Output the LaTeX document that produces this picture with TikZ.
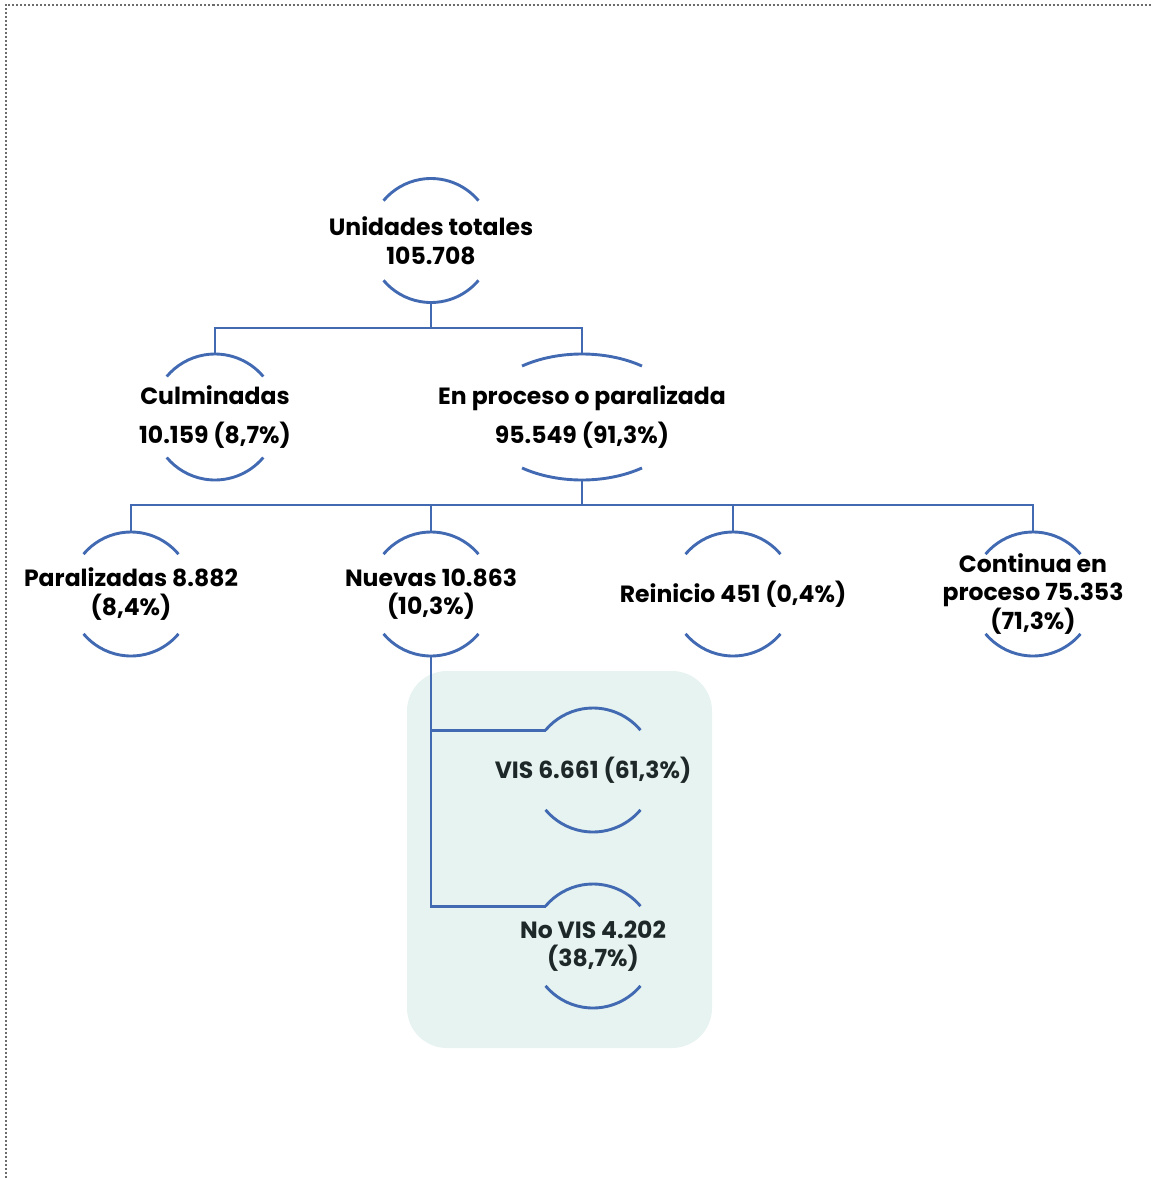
\documentclass[tikz,border=0pt]{standalone}
\usepackage{fontspec}
\setmainfont{Poppins}
\usetikzlibrary{calc}
\definecolor{linkblue}{RGB}{66,106,178}
\definecolor{boxgreen}{HTML}{E6F3F0}
\definecolor{inkdark}{HTML}{1E2828}
\tikzset{
  arcline/.style={draw=linkblue, line width=2.9pt},
  link/.style={draw=linkblue, line width=2.9pt},
  lbl/.style={rectangle, inner sep=0pt, minimum height=124pt, align=center,
    font=\fontsize{23.5}{28.5}\selectfont\bfseries},
}
% two open arcs round a node: #1 node, #2 x radius, #3 y radius, #4 opening angle
\newcommand\halfrings[4]{%
  \draw[arcline] (#1.center) ++(#4:#2 and #3) arc[start angle=#4, end angle=180-#4, x radius=#2, y radius=#3];
  \draw[arcline] (#1.center) ++(-#4:#2 and #3) arc[start angle=-#4, end angle=-180+#4, x radius=#2, y radius=#3];}

\begin{document}
\begin{tikzpicture}[x=1pt, y=1pt]
  \useasboundingbox (0,0) rectangle (1151,-1178);

  % dotted frame
  \draw[gray!85!black, line width=2pt, dash pattern=on 2pt off 2pt] (6,-1178) -- (6,-4.5) -- (1151,-4.5);

  % shaded box round the VIS split
  \fill[boxgreen, rounded corners=40pt] (407,-671) rectangle (712,-1048);

  % labels
  \node[lbl] (tot) at (431,-240.5) {Unidades totales\\105.708};
  \node[lbl] (cul) at (215,-417) {Culminadas\\[11pt]10.159 (8,7\%)};
  \node[lbl] (enp) at (582,-417) {En proceso o paralizada\\[11pt]95.549 (91,3\%)};
  \node[lbl] (par) at (131,-594) {Paralizadas 8.882\\(8,4\%)};
  \node[lbl] (nue) at (431,-594) {Nuevas 10.863\\(10,3\%)};
  \node[lbl] (rei) at (733,-594) {Reinicio 451 (0,4\%)};
  \node[lbl] (con) at (1033,-594) {Continua en\\proceso 75.353\\(71,3\%)};
  \node[lbl, text=inkdark] (vis) at (593,-770) {VIS 6.661 (61,3\%)};
  \node[lbl, text=inkdark] (novis) at (593,-946) {No VIS 4.202\\(38,7\%)};

  % arcs
  \halfrings{tot}{62}{62}{40}
  \halfrings{cul}{63}{63}{40}
  \halfrings{enp}{102}{63}{54}
  \foreach \n in {par,nue,rei,con,vis,novis} {\halfrings{\n}{62}{62}{40}}

  % bar heights
  \coordinate (b1) at (0,-328);
  \coordinate (b2) at (0,-505);
  \path (vis.center) ++(140:62) coordinate (visin);
  \path (novis.center) ++(140:62) coordinate (novisin);

  % connectors
  \draw[link] (tot.south) -- (tot.south |- b1);
  \draw[link] (cul.north) -- (cul.north |- b1) -- (enp.north |- b1) -- (enp.north);
  \draw[link] (enp.south) -- (enp.south |- b2);
  \draw[link] (par.north) -- (par.north |- b2) -- (con.north |- b2) -- (con.north);
  \draw[link] (nue.north) -- (nue.north |- b2);
  \draw[link] (rei.north) -- (rei.north |- b2);
  \draw[link] (nue.south) |- (visin);
  \draw[link] (nue.south) |- (novisin);
\end{tikzpicture}
\end{document}
